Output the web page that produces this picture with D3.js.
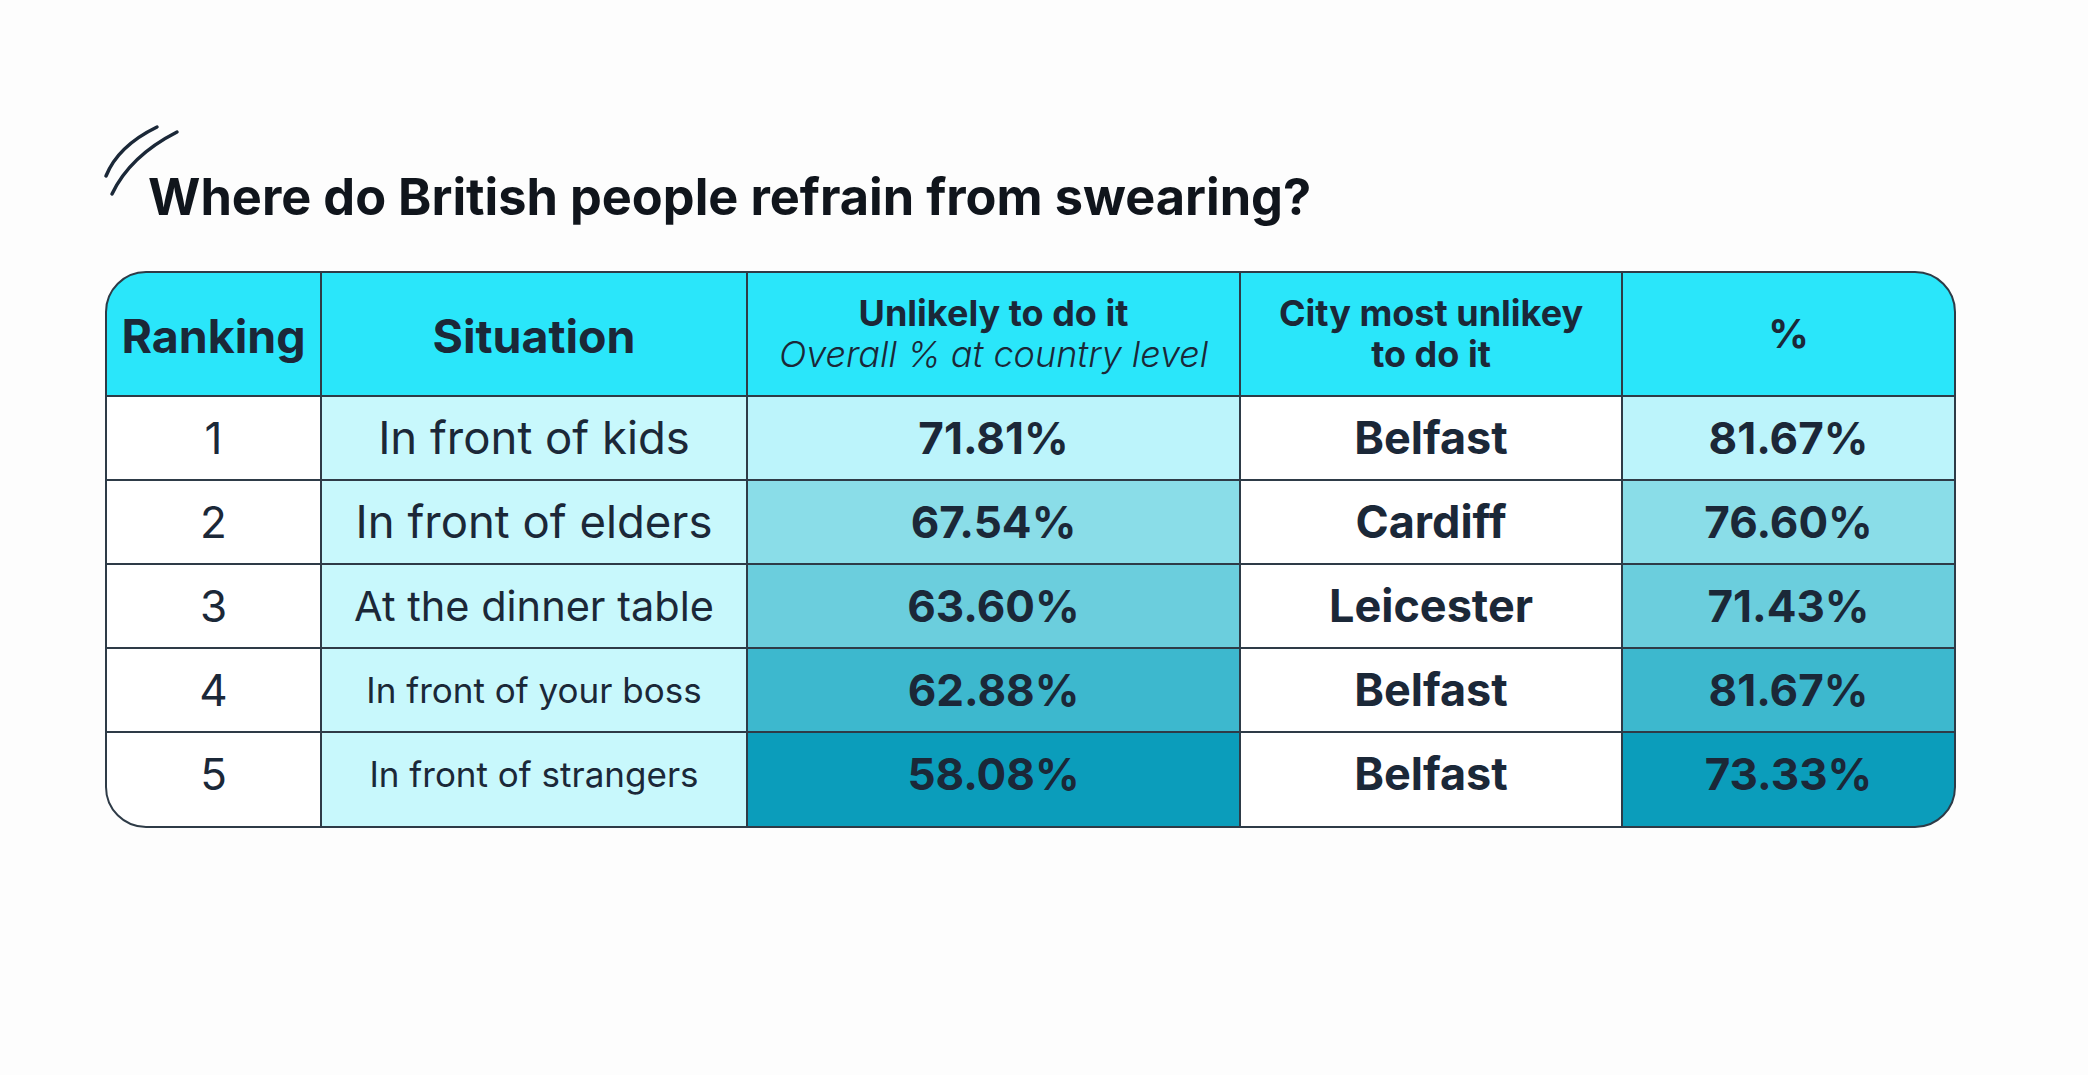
<!DOCTYPE html>
<html>
<head>
<meta charset="utf-8">
<script src="https://cdn.jsdelivr.net/npm/d3@7"></script>
<style>
  html, body { margin: 0; padding: 0; background: #fdfdfd; }
  svg { display: block; font-family: Inter, "Noto Sans", sans-serif; }
</style>
</head>
<body>
<div id="container"><svg></svg></div>
<script>
let width = 2088;
let height = 1075;

// data
let title = 'Where do British people refrain from swearing?';
let ranks = [1, 2, 3, 4, 5];
let situations = ['In front of kids', 'In front of elders', 'At the dinner table', 'In front of your boss', 'In front of strangers'];
let countryPct = [71.81, 67.54, 63.60, 62.88, 58.08];
let cities = ['Belfast', 'Cardiff', 'Leicester', 'Belfast', 'Belfast'];
let cityPct = [81.67, 76.60, 71.43, 81.67, 73.33];
let headers = [['Ranking'], ['Situation'], ['Unlikely to do it', 'Overall % at country level'], ['City most unlikey', 'to do it'], ['%']];

// layout / style
let colWidths = [215, 426, 493, 382, 333];
let rowHeights = [124, 84, 84, 84, 84, 95];
let tableBox = {'left': 106, 'top': 272, 'right': 1955};
let radius = 40;
let ink = '#1b2838';
let lineColor = '#2e3b47';
let headerFill = '#2ae6fa';
let situationFill = '#c8f8fc';
let shadeColors = ['#bcf4fb', '#8adde8', '#6bcedd', '#3db8ce', '#0b9dbb'];
let situationSize = [45.5, 45.5, 41.5, 35, 35];

let svg, xScale, yScale, shade;

function fmt(v) { return v.toFixed(2) + '%'; }

function draw() {
    let colEdges = [0].concat(Array.from(d3.cumsum(colWidths)));
    let rowEdges = [0].concat(Array.from(d3.cumsum(rowHeights)));
    xScale = d3.scaleLinear().domain([0, d3.sum(colWidths)]).range([tableBox.left, tableBox.right]);
    let tableH = d3.sum(rowHeights);
    yScale = d3.scaleLinear().domain([0, tableH]).range([tableBox.top, tableBox.top + tableH]);
    shade = d3.scaleOrdinal().domain(ranks).range(shadeColors);

    let colX = i => xScale(colEdges[i]);
    let colW = i => xScale(colEdges[i + 1]) - xScale(colEdges[i]);
    let colMid = i => (xScale(colEdges[i]) + xScale(colEdges[i + 1])) / 2;
    let rowY = i => yScale(rowEdges[i]);
    let rowH = i => yScale(rowEdges[i + 1]) - yScale(rowEdges[i]);

    // title + slashes
    let deco = svg.append('g')
        .attr('fill', 'none')
        .attr('stroke', ink)
        .attr('stroke-width', 3.5)
        .attr('stroke-linecap', 'round');
    deco.append('path').attr('d', 'M106,176 Q118,146 157,127');
    deco.append('path').attr('d', 'M112,194 Q130,156 177,132');

    svg.append('text')
        .attr('x', 148)
        .attr('y', 215)
        .attr('fill', '#10151c')
        .attr('font-size', 50.5)
        .attr('font-weight', 700)
        .text(title);

    let x0 = xScale(0), x1 = xScale(d3.sum(colWidths));
    let y0 = yScale(0), y1 = yScale(tableH);

    svg.append('clipPath')
        .attr('id', 'tableClip')
        .append('rect')
        .attr('x', x0).attr('y', y0)
        .attr('width', x1 - x0).attr('height', y1 - y0)
        .attr('rx', radius).attr('ry', radius);

    let table = svg.append('g').attr('clip-path', 'url(#tableClip)');

    // header band
    table.append('rect')
        .attr('x', x0).attr('y', rowY(0))
        .attr('width', x1 - x0).attr('height', rowH(0))
        .attr('fill', headerFill);

    // body cells
    let rows = ranks.map((r, i) => ({
        'rank': r, 'situation': situations[i], 'country': countryPct[i],
        'city': cities[i], 'cityPct': cityPct[i], 'i': i
    }));
    let cellFill = [() => '#ffffff', () => situationFill, d => shade(d.rank), () => '#ffffff', d => shade(d.rank)];
    let row = table.selectAll('g.row')
        .data(rows)
        .join('g')
        .classed('row', true);
    cellFill.forEach((f, c) => {
        row.append('rect')
            .attr('x', colX(c))
            .attr('y', d => rowY(d.i + 1))
            .attr('width', colW(c))
            .attr('height', d => rowH(d.i + 1))
            .attr('fill', f);
    });

    // grid lines
    let grid = svg.append('g')
        .attr('stroke', lineColor)
        .attr('stroke-width', 2);
    grid.selectAll('line.v')
        .data(d3.range(1, colWidths.length))
        .join('line')
        .attr('x1', c => colX(c)).attr('x2', c => colX(c))
        .attr('y1', y0).attr('y2', y1);
    grid.selectAll('line.h')
        .data(d3.range(1, rowHeights.length))
        .join('line')
        .attr('x1', x0).attr('x2', x1)
        .attr('y1', r => rowY(r)).attr('y2', r => rowY(r));
    svg.append('rect')
        .attr('x', x0).attr('y', y0)
        .attr('width', x1 - x0).attr('height', y1 - y0)
        .attr('rx', radius).attr('ry', radius)
        .attr('fill', 'none')
        .attr('stroke', lineColor)
        .attr('stroke-width', 2);

    // header text
    let hMid = rowY(0) + rowH(0) / 2;
    let head = svg.append('g').attr('fill', ink).attr('text-anchor', 'middle');
    headers.forEach((lines, c) => {
        if (lines.length === 1) {
            head.append('text')
                .attr('x', colMid(c))
                .attr('y', hMid + (c === 4 ? 14 : 19))
                .attr('font-size', c === 4 ? 40 : 46.5)
                .attr('font-weight', 700)
                .text(lines[0]);
        } else {
            head.append('text')
                .attr('x', colMid(c))
                .attr('y', hMid - 8)
                .attr('font-size', 36)
                .attr('font-weight', 700)
                .text(lines[0]);
            head.append('text')
                .attr('x', colMid(c))
                .attr('y', hMid + 33)
                .attr('font-size', 36)
                .attr('font-weight', c === 2 ? 300 : 700)
                .attr('font-style', c === 2 ? 'italic' : 'normal')
                .text(lines[1]);
        }
    });

    // body text
    let body = svg.append('g').attr('fill', ink).attr('text-anchor', 'middle');
    let midY = d => rowY(d.i + 1) + Math.min(rowH(d.i + 1), rowH(1)) / 2;
    let base = (d, fs) => midY(d) + fs * 0.36;
    body.selectAll('text.rank').data(rows).join('text')
        .attr('x', colMid(0)).attr('y', d => base(d, 44))
        .attr('font-size', 44).attr('font-weight', 400)
        .text(d => d.rank);
    body.selectAll('text.sit').data(rows).join('text')
        .attr('x', colMid(1)).attr('y', d => base(d, situationSize[d.i]))
        .attr('font-size', d => situationSize[d.i]).attr('font-weight', 400)
        .text(d => d.situation);
    body.selectAll('text.cty').data(rows).join('text')
        .attr('x', colMid(2)).attr('y', d => base(d, 44))
        .attr('font-size', 44).attr('font-weight', 700)
        .text(d => fmt(d.country));
    body.selectAll('text.city').data(rows).join('text')
        .attr('x', colMid(3)).attr('y', d => base(d, 45))
        .attr('font-size', 45).attr('font-weight', 700)
        .text(d => d.city);
    body.selectAll('text.cpct').data(rows).join('text')
        .attr('x', colMid(4)).attr('y', d => base(d, 44))
        .attr('font-size', 44).attr('font-weight', 700)
        .text(d => fmt(d.cityPct));
}

function main() {
    svg = d3.select('#container')
        .select('svg')
        .attr('width', width)
        .attr('height', height);
    draw();
}

main()
</script>
</body>
</html>
